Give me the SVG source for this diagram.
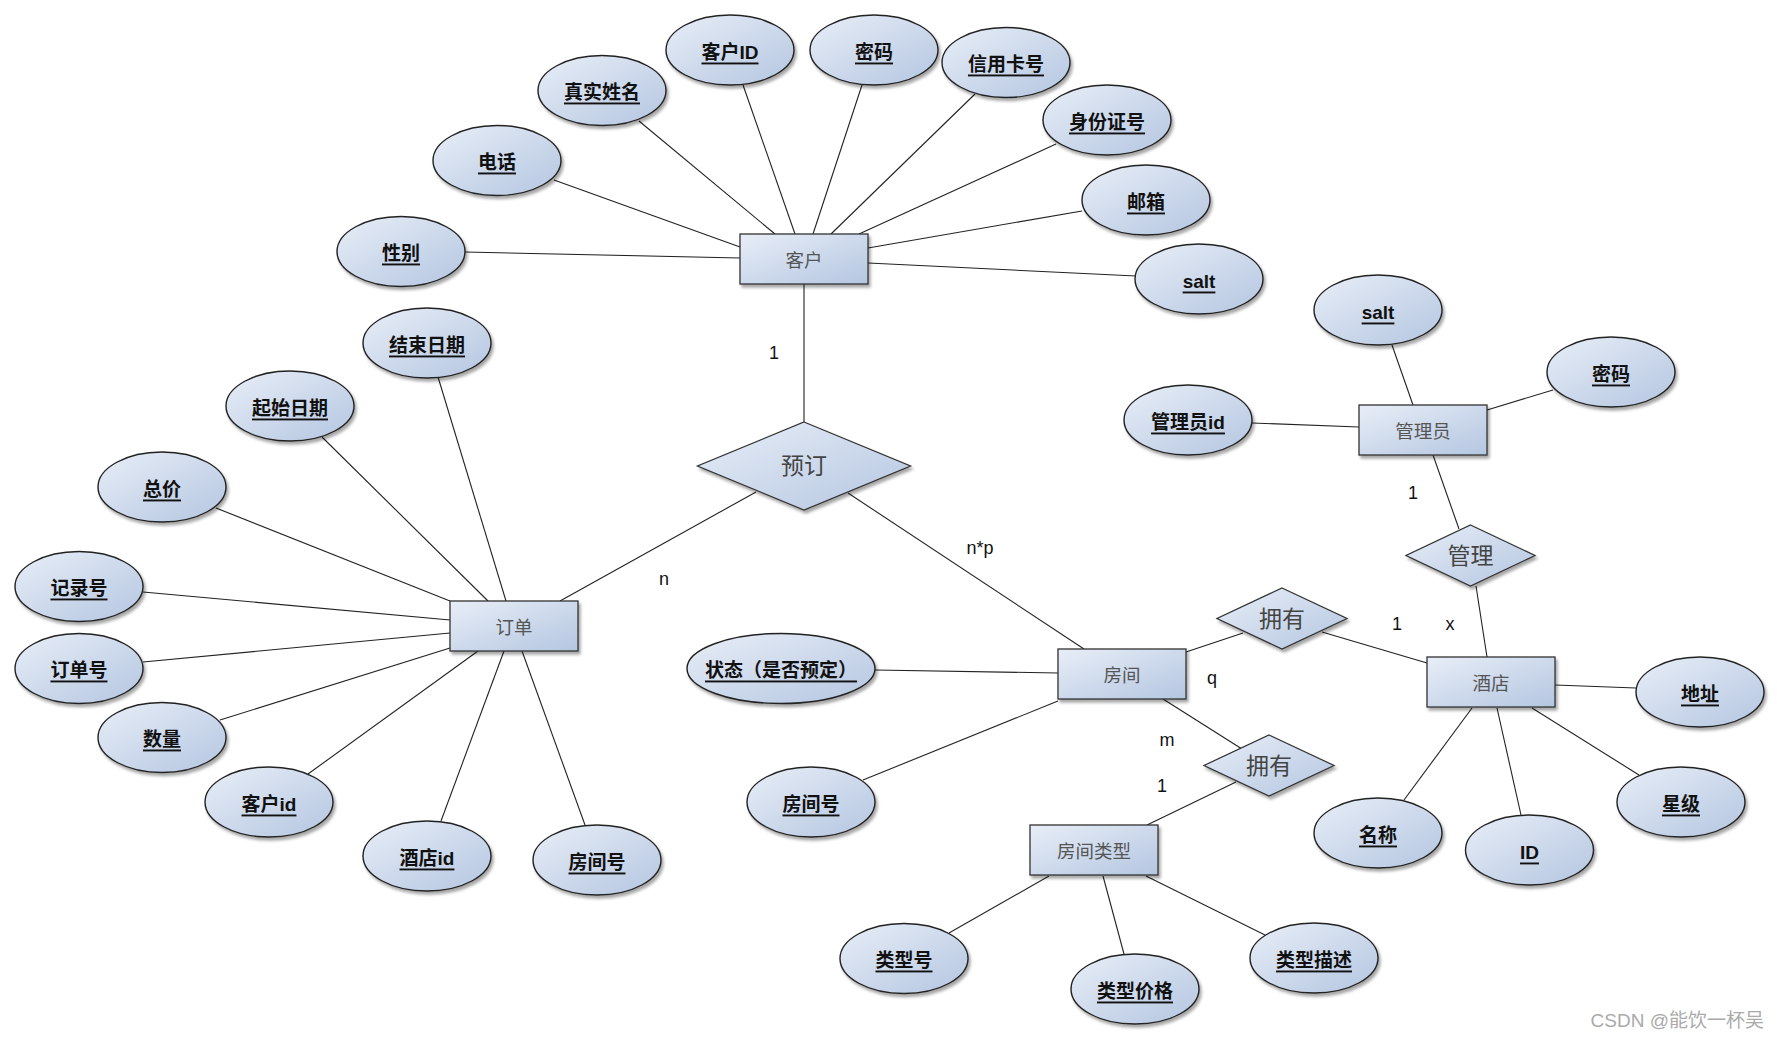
<svg xmlns="http://www.w3.org/2000/svg" width="1777" height="1040" viewBox="0 0 1777 1040">
<defs>
<linearGradient id="g" x1="0" y1="0" x2="1" y2="1">
<stop offset="0" stop-color="#e8eef7"/>
<stop offset="1" stop-color="#b4c6e1"/>
</linearGradient>
<filter id="sh" x="-20%" y="-20%" width="150%" height="150%">
<feDropShadow dx="2" dy="3" stdDeviation="1.6" flood-color="#000" flood-opacity="0.35"/>
</filter>
</defs>
<style>
.bg{fill:#fff}
.ell{fill:url(#g);stroke:#222;stroke-width:1.4;filter:url(#sh)}
.ent{fill:url(#g);stroke:#333;stroke-width:1.3;filter:url(#sh)}
.rel{fill:url(#g);stroke:#333;stroke-width:1.3;filter:url(#sh)}
.at{font-family:"Liberation Sans","Noto Sans CJK SC",sans-serif;font-size:19px;font-weight:bold;text-decoration:underline;fill:#111;text-anchor:middle;dominant-baseline:central}
.et{font-family:"Liberation Sans","Noto Sans CJK SC",sans-serif;font-size:18.5px;fill:#555;text-anchor:middle;dominant-baseline:central}
.rt{font-family:"Liberation Sans","Noto Sans CJK SC",sans-serif;font-size:23px;fill:#444;text-anchor:middle;dominant-baseline:central}
.lb{font-family:"Liberation Sans","Noto Sans CJK SC",sans-serif;font-size:18px;fill:#111;text-anchor:middle;dominant-baseline:central}
.wm{font-family:"Liberation Sans","Noto Sans CJK SC",sans-serif;font-size:19px;fill:#aaa;text-anchor:end;dominant-baseline:central}
#connectors line{stroke:#222;stroke-width:1.1}
</style>
<rect class="bg" x="0" y="0" width="1777" height="1040"/>
<g id="connectors">
<line x1="465" y1="252" x2="740" y2="258"/>
<line x1="554" y1="180" x2="740" y2="247"/>
<line x1="639" y1="121" x2="775" y2="234"/>
<line x1="743" y1="85" x2="795" y2="234"/>
<line x1="862" y1="85" x2="813" y2="234"/>
<line x1="975" y1="94" x2="831" y2="234"/>
<line x1="1056" y1="144" x2="859" y2="234"/>
<line x1="1082" y1="211" x2="868" y2="248"/>
<line x1="1136" y1="276" x2="868" y2="263"/>
<line x1="804" y1="284" x2="804" y2="422"/>
<line x1="560" y1="601" x2="756" y2="492"/>
<line x1="848" y1="493" x2="1084" y2="649"/>
<line x1="438" y1="377" x2="506" y2="601"/>
<line x1="322" y1="437" x2="488" y2="601"/>
<line x1="216" y1="508" x2="450" y2="601"/>
<line x1="143" y1="592" x2="450" y2="620"/>
<line x1="143" y1="662" x2="450" y2="633"/>
<line x1="220" y1="720" x2="450" y2="648"/>
<line x1="308" y1="774" x2="478" y2="651"/>
<line x1="441" y1="821" x2="504" y2="651"/>
<line x1="585" y1="825" x2="522" y2="651"/>
<line x1="875" y1="670" x2="1058" y2="673"/>
<line x1="863" y1="780" x2="1058" y2="701"/>
<line x1="1186" y1="652" x2="1243" y2="633"/>
<line x1="1322" y1="632" x2="1427" y2="663"/>
<line x1="1433" y1="455" x2="1459" y2="529"/>
<line x1="1476" y1="586" x2="1487" y2="657"/>
<line x1="1252" y1="423" x2="1359" y2="427"/>
<line x1="1392" y1="345" x2="1413" y2="405"/>
<line x1="1553" y1="390" x2="1487" y2="410"/>
<line x1="1555" y1="685" x2="1636" y2="688"/>
<line x1="1532" y1="708" x2="1639" y2="775"/>
<line x1="1497" y1="708" x2="1521" y2="815"/>
<line x1="1472" y1="708" x2="1404" y2="800"/>
<line x1="1163" y1="699" x2="1242" y2="749"/>
<line x1="1236" y1="782" x2="1147" y2="825"/>
<line x1="1049" y1="876" x2="949" y2="933"/>
<line x1="1103" y1="876" x2="1124" y2="954"/>
<line x1="1146" y1="876" x2="1265" y2="935"/>
</g>
<g id="labels">
<text class="lb" x="774" y="353">1</text>
<text class="lb" x="664" y="579">n</text>
<text class="lb" x="980" y="548">n*p</text>
<text class="lb" x="1212" y="678">q</text>
<text class="lb" x="1167" y="740">m</text>
<text class="lb" x="1162" y="786">1</text>
<text class="lb" x="1413" y="493">1</text>
<text class="lb" x="1397" y="624">1</text>
<text class="lb" x="1450" y="624">x</text>
</g>
<g id="customer"><rect class="ent" x="740" y="234" width="128" height="50"/><text class="et" x="804" y="260">客户</text></g>
<g id="order"><rect class="ent" x="450" y="601" width="128" height="50"/><text class="et" x="514" y="627">订单</text></g>
<g id="room"><rect class="ent" x="1058" y="649" width="128" height="50"/><text class="et" x="1122" y="675">房间</text></g>
<g id="hotel"><rect class="ent" x="1427" y="657" width="128" height="50"/><text class="et" x="1491" y="683">酒店</text></g>
<g id="admin"><rect class="ent" x="1359" y="405" width="128" height="50"/><text class="et" x="1423" y="431">管理员</text></g>
<g id="roomtype"><rect class="ent" x="1030" y="825" width="128" height="50"/><text class="et" x="1094" y="851">房间类型</text></g>
<g id="reserve"><polygon class="rel" points="804,422 910.5,466 804,510 697.5,466"/><text class="rt" x="804" y="466">预订</text></g>
<g id="has1"><polygon class="rel" points="1282,588 1347,618.5 1282,649 1217,618.5"/><text class="rt" x="1282" y="619">拥有</text></g>
<g id="has2"><polygon class="rel" points="1269,735 1334,765.5 1269,796 1204,765.5"/><text class="rt" x="1269" y="766">拥有</text></g>
<g id="manage"><polygon class="rel" points="1470.5,525 1535,555.5 1470.5,586 1406,555.5"/><text class="rt" x="1470.5" y="556">管理</text></g>
<g id="a-gender"><ellipse class="ell" cx="401" cy="251.5" rx="64" ry="35"/><text class="at" x="401" y="253">性别</text></g>
<g id="a-phone"><ellipse class="ell" cx="497" cy="160.5" rx="64" ry="35"/><text class="at" x="497" y="162">电话</text></g>
<g id="a-realname"><ellipse class="ell" cx="602" cy="90.5" rx="64" ry="35"/><text class="at" x="602" y="92">真实姓名</text></g>
<g id="a-custid"><ellipse class="ell" cx="730" cy="50" rx="64" ry="35"/><text class="at" x="730" y="52">客户ID</text></g>
<g id="a-pwd"><ellipse class="ell" cx="874" cy="50" rx="64" ry="35"/><text class="at" x="874" y="52">密码</text></g>
<g id="a-card"><ellipse class="ell" cx="1006" cy="62.5" rx="64" ry="35"/><text class="at" x="1006" y="64">信用卡号</text></g>
<g id="a-idcard"><ellipse class="ell" cx="1107" cy="120" rx="64" ry="35"/><text class="at" x="1107" y="122">身份证号</text></g>
<g id="a-email"><ellipse class="ell" cx="1146" cy="200" rx="64" ry="35"/><text class="at" x="1146" y="202">邮箱</text></g>
<g id="a-salt1"><ellipse class="ell" cx="1199" cy="279" rx="64" ry="35"/><text class="at" x="1199" y="281">salt</text></g>
<g id="a-salt2"><ellipse class="ell" cx="1378" cy="310" rx="64" ry="35"/><text class="at" x="1378" y="312">salt</text></g>
<g id="a-pwd2"><ellipse class="ell" cx="1611" cy="372" rx="64" ry="35"/><text class="at" x="1611" y="374">密码</text></g>
<g id="a-adminid"><ellipse class="ell" cx="1188" cy="420" rx="64" ry="35"/><text class="at" x="1188" y="422">管理员id</text></g>
<g id="a-enddate"><ellipse class="ell" cx="427" cy="343" rx="64" ry="35"/><text class="at" x="427" y="345">结束日期</text></g>
<g id="a-startdate"><ellipse class="ell" cx="290" cy="406" rx="64" ry="35"/><text class="at" x="290" y="408">起始日期</text></g>
<g id="a-total"><ellipse class="ell" cx="162" cy="487" rx="64" ry="35"/><text class="at" x="162" y="489">总价</text></g>
<g id="a-record"><ellipse class="ell" cx="79" cy="586.5" rx="64" ry="35"/><text class="at" x="79" y="588">记录号</text></g>
<g id="a-orderno"><ellipse class="ell" cx="79" cy="668.5" rx="64" ry="35"/><text class="at" x="79" y="670">订单号</text></g>
<g id="a-qty"><ellipse class="ell" cx="162" cy="737.5" rx="64" ry="35"/><text class="at" x="162" y="739">数量</text></g>
<g id="a-custid2"><ellipse class="ell" cx="269" cy="802" rx="64" ry="35"/><text class="at" x="269" y="804">客户id</text></g>
<g id="a-hotelid"><ellipse class="ell" cx="427" cy="856" rx="64" ry="35"/><text class="at" x="427" y="858">酒店id</text></g>
<g id="a-roomno1"><ellipse class="ell" cx="597" cy="860" rx="64" ry="35"/><text class="at" x="597" y="862">房间号</text></g>
<g id="a-status"><ellipse class="ell" cx="781" cy="668.5" rx="94" ry="35"/><text class="at" x="781" y="670">状态（是否预定）</text></g>
<g id="a-roomno2"><ellipse class="ell" cx="811" cy="802" rx="64" ry="35"/><text class="at" x="811" y="804">房间号</text></g>
<g id="a-address"><ellipse class="ell" cx="1700" cy="692" rx="64" ry="35"/><text class="at" x="1700" y="694">地址</text></g>
<g id="a-star"><ellipse class="ell" cx="1681" cy="802" rx="64" ry="35"/><text class="at" x="1681" y="804">星级</text></g>
<g id="a-hid"><ellipse class="ell" cx="1529.5" cy="850" rx="64" ry="35"/><text class="at" x="1529.5" y="852">ID</text></g>
<g id="a-name"><ellipse class="ell" cx="1378" cy="833" rx="64" ry="35"/><text class="at" x="1378" y="835">名称</text></g>
<g id="a-typeno"><ellipse class="ell" cx="904" cy="958.5" rx="64" ry="35"/><text class="at" x="904" y="960">类型号</text></g>
<g id="a-typeprice"><ellipse class="ell" cx="1135" cy="989" rx="64" ry="35"/><text class="at" x="1135" y="991">类型价格</text></g>
<g id="a-typedesc"><ellipse class="ell" cx="1314" cy="958" rx="64" ry="35"/><text class="at" x="1314" y="960">类型描述</text></g>
<text class="wm" x="1764" y="1020">CSDN @能饮一杯吴</text>
</svg>
